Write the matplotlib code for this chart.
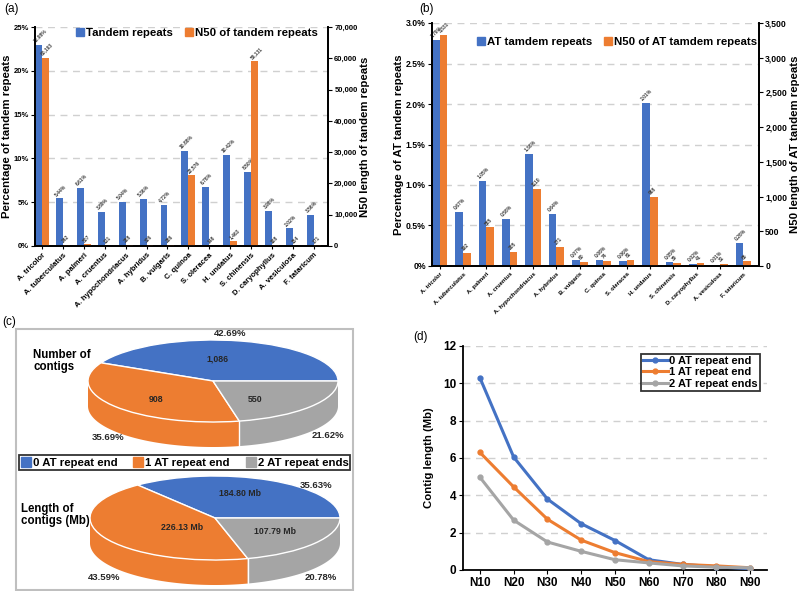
import matplotlib
matplotlib.use('Agg')
import matplotlib.pyplot as plt
import numpy as np
from matplotlib.patches import Patch, Rectangle
from matplotlib.lines import Line2D

plt.rcParams['font.family'] = ['Liberation Sans', 'DejaVu Sans']
plt.rcParams['font.weight'] = 'bold'
plt.rcParams['axes.labelweight'] = 'bold'

# ---------------- data ----------------
species = ['A. tricolor', 'A. tuberculatus', 'A. palmeri', 'A. cruentus',
           'A. hypochondriacus', 'A. hybridus', 'B. vulgaris', 'C. quinoa',
           'S. oleracea', 'H. undatus', 'S. chinensis', 'D. caryophyllus',
           'A. vesiculosa', 'F. tataricum']
tandem_pct = [22.98, 5.44, 6.61, 3.89, 5.04, 5.36, 4.72, 10.88, 6.78, 10.42,
              8.50, 3.98, 2.02, 3.56]
tandem_n50 = [60193, 242, 507, 131, 288, 336, 286, 22576, 148, 1463, 59131,
              188, 154, 171]
at_pct = [2.79, 0.67, 1.05, 0.58, 1.38, 0.64, 0.07, 0.08, 0.06, 2.01, 0.05,
          0.02, 0.01, 0.28]
at_n50 = [3331, 192, 555, 205, 1110, 271, 60, 74, 81, 988, 39, 41, 31, 65]

pie_groups = ['0 AT repeat end', '1 AT repeat end', '2 AT repeat ends']
contig_counts = [1086, 908, 550]
contig_count_pct = [42.69, 35.69, 21.62]
contig_lengths = [184.80, 226.13, 107.79]
contig_length_pct = [35.63, 43.59, 20.78]

nx_labels = ['N10', 'N20', 'N30', 'N40', 'N50', 'N60', 'N70', 'N80', 'N90']
nx_end0 = [10.3, 6.05, 3.8, 2.48, 1.58, 0.55, 0.3, 0.17, 0.07]
nx_end1 = [6.3, 4.45, 2.72, 1.6, 0.93, 0.45, 0.3, 0.22, 0.12]
nx_end2 = [4.97, 2.67, 1.5, 1.0, 0.55, 0.38, 0.22, 0.15, 0.12]

BLUE = '#4472C4'
ORANGE = '#ED7D31'
GRAY = '#A5A5A5'
GRID = '#D0D0D0'

W, H = 800, 591
fig = plt.figure(figsize=(W / 100, H / 100), dpi=100)


def px_axes(x0, y0, x1, y1):
    return fig.add_axes([x0 / W, 1 - y1 / H, (x1 - x0) / W, (y1 - y0) / H])


def fx(x):
    return x / W


def fy(y):
    return 1 - y / H


def bar_panel(box, pct, n50, ymax, ystep, y2max, y2step, pct_fmt, n50_fmt,
              tick_fs, xtick_fs, val_fs, ylab, y2lab, lab_fs):
    ax = px_axes(*box)
    x = np.arange(len(species))
    w = 0.33
    ax.bar(x - w / 2, pct, w, color=BLUE, zorder=2)
    ax2 = ax.twinx()
    ax2.bar(x + w / 2, n50, w, color=ORANGE, zorder=2)
    ax.set_xlim(-0.33, len(species) - 0.33)
    ax.set_ylim(0, ymax)
    ax2.set_ylim(0, y2max)
    ax.set_yticks(np.arange(0, ymax + ystep / 2, ystep))
    ax2.set_yticks(np.arange(0, y2max + y2step / 2, y2step))
    ax.yaxis.set_major_formatter(pct_fmt)
    ax2.yaxis.set_major_formatter(lambda v, p: f'{v:,.0f}')
    ax.grid(axis='y', ls=(0, (5, 4)), color=GRID, lw=1)
    ax.set_axisbelow(True)
    for a in (ax, ax2):
        a.spines['top'].set_visible(False)
        for s in ('left', 'right', 'bottom'):
            a.spines[s].set_linewidth(1.3)
    ax.set_xticks(x)
    ax.set_xticklabels(species, rotation=45, ha='right', rotation_mode='anchor',
                       fontsize=xtick_fs, fontweight='bold')
    ax.tick_params(axis='x', length=2, pad=2)
    ax.tick_params(axis='y', labelsize=tick_fs, length=3, pad=1.5)
    ax2.tick_params(axis='y', labelsize=tick_fs, length=3, pad=1.5)
    for xi, v in zip(x, pct):
        ax.text(xi - w / 2 - 0.1, v + ymax * 0.005, f'{v:.2f}%', rotation=45,
                rotation_mode='anchor', ha='left', va='bottom', fontsize=val_fs,
                color='#404040')
    for xi, v in zip(x, n50):
        ax2.text(xi + w / 2 - 0.1, v + y2max * 0.005, n50_fmt(v), rotation=45,
                 rotation_mode='anchor', ha='left', va='bottom', fontsize=val_fs,
                 color='#404040')
    ax.set_ylabel(ylab, fontsize=lab_fs, labelpad=1)
    ax2.set_ylabel(y2lab, fontsize=lab_fs, labelpad=2)
    return ax, ax2


# ---------------- panel (a) ----------------
axa, axa2 = bar_panel((35, 27, 328, 246), tandem_pct, tandem_n50, 25, 5,
                      70000, 10000, lambda v, p: f'{v:.0f}%',
                      lambda v: f'{v:,}', 5.5, 5.5, 3.6,
                      'Percentage of tandem repeats',
                      'N50 length of tandem repeats', 8.2)
fig.legend([Patch(color=BLUE), Patch(color=ORANGE)],
           ['Tandem repeats', 'N50 of tandem repeats'],
           loc='center left', bbox_to_anchor=(fx(76), fy(33)), ncol=2,
           frameon=False, fontsize=8.2, handlelength=0.7, handleheight=0.7,
           handletextpad=0.15, columnspacing=1.1, borderpad=0, borderaxespad=0)

# ---------------- panel (b) ----------------
axb, axb2 = bar_panel((432, 23, 759, 266), at_pct, at_n50, 3.0, 0.5,
                      3500, 500,
                      lambda v, p: '0%' if v == 0 else f'{v:.1f}%',
                      lambda v: f'{v:,}' if v > 2000 else f'{v}', 6.2, 4.2, 3.6,
                      'Percentage of AT tandem repeats',
                      'N50 length of AT tandem repeats', 8.2)
fig.legend([Patch(color=BLUE), Patch(color=ORANGE)],
           ['AT tamdem repeats', 'N50 of AT tamdem repeats'],
           loc='center left', bbox_to_anchor=(fx(477), fy(42)), ncol=2,
           frameon=False, fontsize=8.2, handlelength=0.7, handleheight=0.7,
           handletextpad=0.15, columnspacing=1.1, borderpad=0, borderaxespad=0)

# ---------------- panel (c) ----------------
fig.add_artist(Rectangle((fx(16), fy(590)), (353 - 16) / W, (590 - 329) / H,
                         transform=fig.transFigure, fill=False,
                         edgecolor='#BFBFBF', lw=1.5))


def pie3d(values, cx, cy, rx, ry, depth_px, box, inner_labels, inner_pos,
          pct_labels, pct_pos):
    x0, y0, x1, y1 = box
    ax = px_axes(x0, y0, x1, y1)
    wedges, _ = ax.pie(values, colors=[BLUE, ORANGE, GRAY], startangle=0,
                       counterclock=True, radius=1, frame=False,
                       wedgeprops=dict(edgecolor='white', linewidth=1.0,
                                       zorder=2))
    ax.set_aspect('auto')
    ax.set_xlim((x0 - cx) / rx, (x1 - cx) / rx)
    ax.set_ylim((cy - y1) / ry, (cy - y0) / ry)
    d = depth_px / ry
    for wdg in wedges:
        a = max(wdg.theta1, 180)
        b = min(wdg.theta2, 360)
        if b > a:
            t = np.radians(np.linspace(a, b, 120))
            xs = np.concatenate([np.cos(t), np.cos(t[::-1])])
            ys = np.concatenate([np.sin(t), np.sin(t[::-1]) - d])
            ax.fill(xs, ys, color=wdg.get_facecolor(), lw=0, zorder=1)
    for wdg in wedges:
        th = wdg.theta1 % 360
        if 180 < th < 360:
            c, s = np.cos(np.radians(th)), np.sin(np.radians(th))
            ax.plot([c, c], [s, s - d], color='white', lw=1.0, zorder=1.5)

    def to_data(px, py):
        return (px - cx) / rx, (cy - py) / ry
    for lab, (px, py) in zip(inner_labels, inner_pos):
        ax.text(*to_data(px, py), lab, ha='center', va='center', fontsize=6.3,
                color='#262626', zorder=5)
    for lab, (px, py) in zip(pct_labels, pct_pos):
        ax.text(*to_data(px, py), lab, ha='center', va='center', fontsize=6.8,
                color='#262626', zorder=5)
    return ax


pie3d(contig_counts, 213, 381, 125, 41, 25, (40, 330, 370, 455),
      [f'{v:,}' for v in contig_counts], [(218, 359), (156, 399), (255, 399)],
      [f'{v:.2f}%' for v in contig_count_pct],
      [(230, 334), (108, 438), (328, 435)])
pie3d(contig_lengths, 215, 518, 125, 42, 25, (40, 472, 370, 590),
      [f'{v:.2f} Mb' for v in contig_lengths],
      [(240, 494), (182, 527), (275, 531)],
      [f'{v:.2f}%' for v in contig_length_pct],
      [(316, 485), (104, 577), (321, 577)])

fig.text(fx(33), fy(361), 'Number of\ncontigs', ha='left', va='center',
         fontsize=8.3, linespacing=1.1)
fig.text(fx(21), fy(515), 'Length of\ncontigs (Mb)', ha='left', va='center',
         fontsize=8.3, linespacing=1.1)

lg = fig.legend([Patch(color=c) for c in (BLUE, ORANGE, GRAY)], pie_groups,
                loc='center', bbox_to_anchor=(fx((23 + 346) / 2), fy(462.5)),
                ncol=3, frameon=True, fancybox=False, edgecolor='black',
                fontsize=8.2, handlelength=0.9, handleheight=0.9,
                handletextpad=0.15, columnspacing=1.4, borderpad=0.15,
                borderaxespad=0)
lg.get_frame().set_linewidth(1.3)

# ---------------- panel (d) ----------------
axd = px_axes(463, 346, 767, 570)
xd = np.arange(len(nx_labels))
for ys, col, lab in zip((nx_end0, nx_end1, nx_end2), (BLUE, ORANGE, GRAY),
                        pie_groups):
    axd.plot(xd, ys, color=col, lw=2.2, marker='o', ms=3.5, label=lab,
             zorder=3)
axd.set_xlim(-0.5, len(nx_labels) - 0.5)
axd.set_ylim(0, 12)
axd.set_yticks(np.arange(0, 13, 2))
axd.set_xticks(xd)
axd.set_xticklabels(nx_labels)
axd.tick_params(labelsize=8.5, length=3, pad=2)
axd.grid(axis='y', ls=(0, (5, 4)), color=GRID, lw=1)
axd.set_axisbelow(True)
axd.spines['top'].set_visible(False)
axd.spines['right'].set_visible(False)
axd.spines['left'].set_linewidth(1.3)
axd.spines['bottom'].set_linewidth(1.3)
axd.set_ylabel('Contig length (Mb)', fontsize=8.2, labelpad=6)
lgd = axd.legend(loc='upper left', bbox_to_anchor=((641 - 463) / 304,
                                                     1 - (354 - 346) / 224),
                 frameon=True, fancybox=False, edgecolor='black', fontsize=8,
                 handlelength=2.3, handletextpad=0.1, labelspacing=0.15,
                 borderpad=0.15, borderaxespad=0)
lgd.get_frame().set_linewidth(1.3)

# ---------------- panel labels ----------------
for lab, x, y in (('(a)', 4, 9), ('(b)', 419, 9), ('(c)', 2, 322),
                  ('(d)', 413, 337)):
    fig.text(fx(x), fy(y), lab, ha='left', va='center', fontsize=8.5,
             fontweight='normal')

fig.savefig('out.png', dpi=100)
